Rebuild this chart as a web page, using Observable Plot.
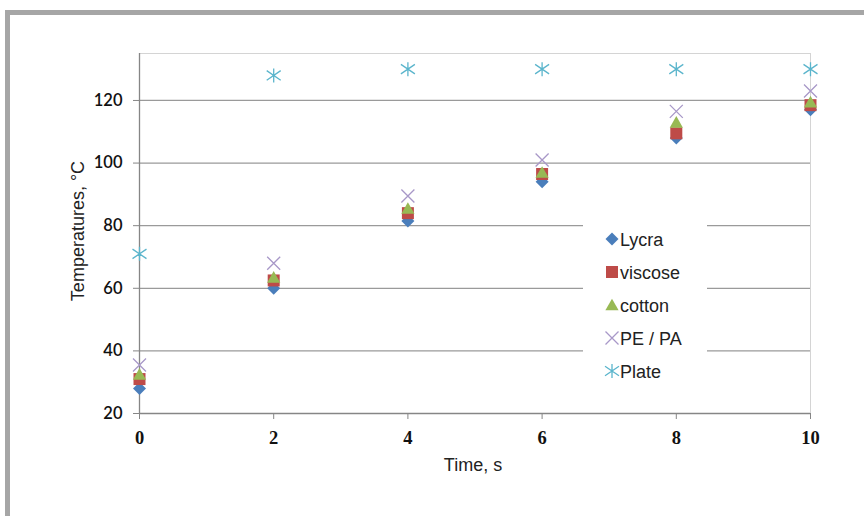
<!DOCTYPE html>
<html>
<head>
<meta charset="utf-8">
<script src="https://cdn.jsdelivr.net/npm/d3@7"></script>
<script src="https://cdn.jsdelivr.net/npm/@observablehq/plot@0.6"></script>
<style>
  html, body { margin: 0; padding: 0; background: #fff; width: 864px; height: 516px; overflow: hidden; }
  #frame { position: absolute; left: 5px; top: 10px; width: 900px; height: 600px;
           border-top: 5px solid #a6a6a6; border-left: 5px solid #a6a6a6; box-sizing: border-box; }
  #chart { position: absolute; left: 0; top: 0; }
</style>
</head>
<body>
<div id="frame"></div>
<div id="chart"></div>
<script>
// ---- data ----
const times   = [0, 2, 4, 6, 8, 10];
const lycra   = [28, 60, 81.5, 94, 108, 117];
const viscose = [31, 62.5, 84, 96.5, 109.5, 118.5];
const cotton  = [32.5, 63.5, 85.5, 97, 113, 119.5];
const pepa    = [35.5, 68, 89.5, 101, 116.5, 123];
const plate   = [71, 128, 130, 130, 130, 130];
const seriesNames = ["Lycra", "viscose", "cotton", "PE / PA", "Plate"];
const xTicks = [0, 2, 4, 6, 8, 10];
const yTicks = [20, 40, 60, 80, 100, 120];
const gridValues = [40, 60, 80, 100, 120];
const xTitle = "Time, s";
const yTitle = "Temperatures, °C";

// ---- symbols (Excel-like markers) ----
const rOf = size => Math.sqrt(size / Math.PI);
const symDiamond = { draw(c, size) { const r = rOf(size); c.moveTo(0, -r); c.lineTo(r, 0); c.lineTo(0, r); c.lineTo(-r, 0); c.closePath(); } };
const symSquare  = { draw(c, size) { const r = rOf(size); c.moveTo(-r, -r); c.lineTo(r, -r); c.lineTo(r, r); c.lineTo(-r, r); c.closePath(); } };
const symTri     = { draw(c, size) { const r = rOf(size); c.moveTo(0, -r); c.lineTo(r * 1.05, r * 0.85); c.lineTo(-r * 1.05, r * 0.85); c.closePath(); } };
const symX       = { draw(c, size) { const r = rOf(size); c.moveTo(-r, -r); c.lineTo(r, r); c.moveTo(-r, r); c.lineTo(r, -r); } };
const symStar    = { draw(c, size) { const r = rOf(size); c.moveTo(0, -r); c.lineTo(0, r); c.moveTo(-r, -r * 0.68); c.lineTo(r, r * 0.68); c.moveTo(-r, r * 0.68); c.lineTo(r, -r * 0.68); } };

const styles = [
  { values: lycra,   symbol: symDiamond, r: 6.5, fill: "#4a7ebb", stroke: "none" },
  { values: viscose, symbol: symSquare,  r: 6,   fill: "#be4b48", stroke: "none" },
  { values: cotton,  symbol: symTri,     r: 6.3, fill: "#98b954", stroke: "none" },
  { values: pepa,    symbol: symX,       r: 6.5, fill: "none",    stroke: "#a898c8" },
  { values: plate,   symbol: symStar,    r: 7,   fill: "none",    stroke: "#5bb5cc" }
];

const rows = [];
styles.forEach((s, i) => times.forEach((t, j) => rows.push({ series: seriesNames[i], t, v: s.values[j] })));

const dotMarks = styles.map((s, i) =>
  Plot.dot(rows.filter(d => d.series === seriesNames[i]), {
    x: "t", y: "v", symbol: s.symbol, r: s.r, fill: s.fill, stroke: s.stroke, strokeWidth: 1.3
  })
);

const plot = Plot.plot({
  width: 864, height: 516,
  marginLeft: 139, marginRight: 54, marginTop: 53, marginBottom: 103,
  style: { background: "transparent", overflow: "visible" },
  x: { domain: [0, 10] },
  y: { domain: [20, 135] },
  marks: [
    Plot.ruleY(gridValues, { stroke: "#9a9a9a", strokeWidth: 1.3 }),
    Plot.ruleY([135], { stroke: "#d4d4d4" }),
    Plot.ruleX([10], { stroke: "#d4d4d4" }),
    Plot.axisX({ ticks: xTicks, tickSize: 6, tickPadding: 11, label: null, stroke: "#868686", strokeOpacity: 1,
                 fontFamily: "Liberation Serif", fontSize: 18.5, fontWeight: "bold", fill: "#111" }),
    Plot.axisY({ ticks: yTicks, tickSize: 6, tickPadding: 11, label: null, stroke: "#868686", strokeOpacity: 1,
                 fontFamily: "Lato", fontSize: 16.5, fontWeight: "600", fill: "#111" }),
    Plot.ruleY([20], { stroke: "#868686", strokeWidth: 1.3 }),
    Plot.ruleX([0], { stroke: "#868686", strokeWidth: 1.3 }),
    ...dotMarks
  ]
});
document.getElementById("chart").appendChild(plot);

// ---- axis titles & legend ----
const svg = d3.select(plot);
svg.append("text").attr("x", 473).attr("y", 471).attr("text-anchor", "middle")
  .attr("font-family", "Liberation Sans").attr("font-size", 18).attr("fill", "#222").text(xTitle);
svg.append("text").attr("transform", "translate(84,231) rotate(-90)").attr("text-anchor", "middle")
  .attr("font-family", "Liberation Sans").attr("font-size", 18).attr("fill", "#222").text(yTitle);

const lg = svg.append("g");
lg.append("rect").attr("x", 583).attr("y", 212).attr("width", 124).attr("height", 180).attr("fill", "#fff");
styles.forEach((s, i) => {
  const cy = 239 + 33 * i;
  lg.append("path")
    .attr("transform", `translate(612,${cy})`)
    .attr("d", d3.symbol(s.symbol, Math.PI * s.r * s.r)())
    .attr("fill", s.fill).attr("stroke", s.stroke).attr("stroke-width", 1.3);
  lg.append("text").attr("x", 620).attr("y", cy + 6.5).attr("text-anchor", "start")
    .attr("font-family", "Liberation Sans").attr("font-size", 18).attr("fill", "#222").text(seriesNames[i]);
});
</script>
</body>
</html>
